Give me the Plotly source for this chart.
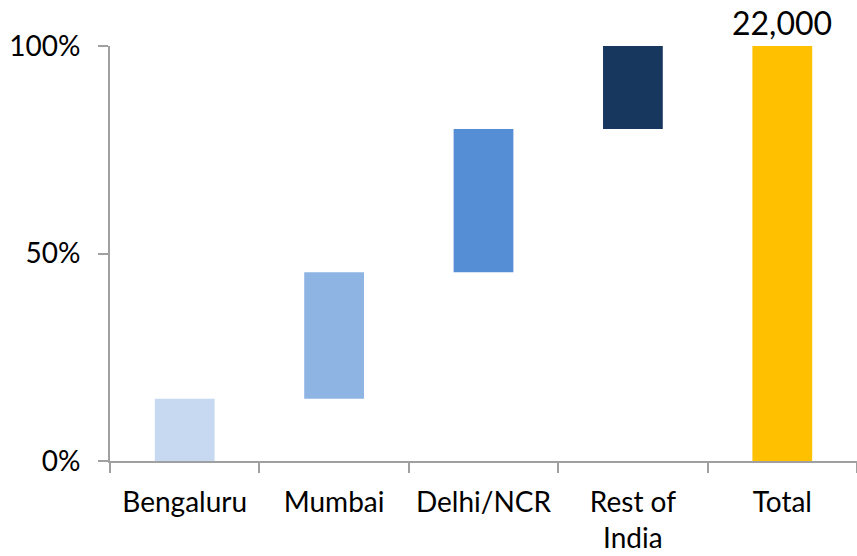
import numpy as np
import plotly.graph_objects as go

# Regional share of the total (in %), stacked as a waterfall
regions = ["Bengaluru", "Mumbai", "Delhi/NCR", "Rest of<br>India"]
shares = [15.0, 30.5, 34.5, 20.0]
region_colors = ["#C6D9F1", "#8EB4E3", "#558ED5", "#17375E"]

total_label = "Total"
total_share = 100.0
total_count = 22000
total_color = "#FFC000"

y_ticks = [0, 50, 100]

bases = list(np.concatenate([[0.0], np.cumsum(shares)[:-1]]))

categories = regions + [total_label]
sizes = shares + [total_share]
base_vals = bases + [0.0]
colors = region_colors + [total_color]

font_family = "Lato, 'Open Sans', sans-serif"
axis_color = "#A0A0A0"

fig = go.Figure(
    go.Bar(
        x=categories,
        y=sizes,
        base=base_vals,
        marker=dict(color=colors, line=dict(width=0)),
        width=0.4,
        hoverinfo="skip",
    )
)

# Count label above the total bar
fig.add_annotation(
    x=total_label,
    y=total_share,
    text=f"{total_count:,}",
    showarrow=False,
    yanchor="bottom",
    yshift=2,
    font=dict(size=32, color="#000000", family=font_family),
)

fig.update_layout(
    width=857,
    height=556,
    margin=dict(l=110, r=0, t=46, b=95),
    paper_bgcolor="white",
    plot_bgcolor="white",
    showlegend=False,
    font=dict(family=font_family, size=28, color="#000000"),
    bargap=0.6,
)

fig.update_xaxes(
    type="category",
    range=[-0.5, 4.5],
    showline=True,
    linecolor=axis_color,
    linewidth=2,
    ticks="outside",
    ticklen=10,
    tickwidth=2,
    tickcolor=axis_color,
    tickson="boundaries",
    showgrid=False,
    zeroline=False,
    tickfont=dict(size=28, family=font_family, color="#000000"),
    ticklabelstandoff=15,
)

fig.update_yaxes(
    range=[0, 100],
    tickvals=y_ticks,
    ticktext=[f"{v}%" for v in y_ticks],
    showline=True,
    linecolor=axis_color,
    linewidth=2,
    ticks="outside",
    ticklen=10,
    tickwidth=2,
    tickcolor=axis_color,
    showgrid=False,
    zeroline=False,
    tickfont=dict(size=28, family=font_family, color="#000000"),
    ticklabelstandoff=12,
)

fig.write_html("out.html")
